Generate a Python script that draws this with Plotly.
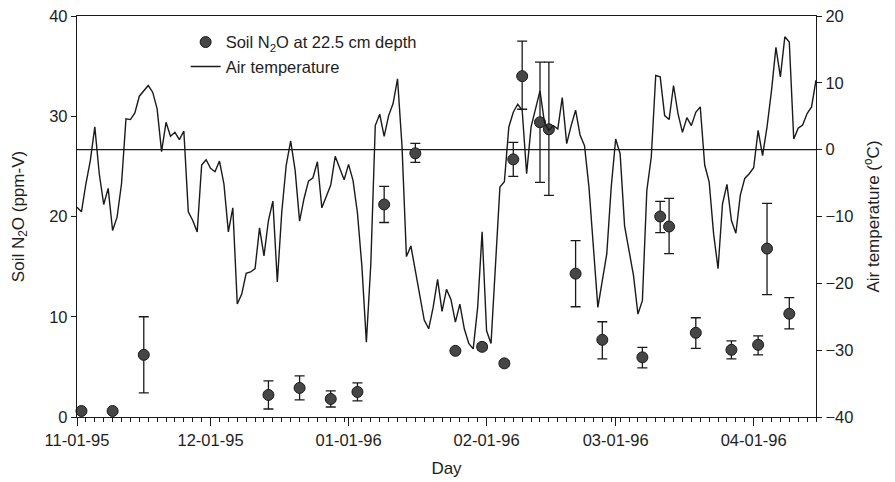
import pandas as pd
import plotly.graph_objects as go

# Daily air temperature (deg C), starting 1995-11-01
temp_start = "1995-11-01"
air_temp = [
    -8.6, -9.3, -5.1, -1.6, 3.4, -3.6, -8.2, -5.8, -12.1, -10.1,
    -5.1, 4.6, 4.5, 5.5, 8.0, 8.8, 9.6, 8.6, 6.1, -0.3,
    4.1, 2.0, 2.6, 1.5, 2.8, -9.3, -10.6, -12.3, -2.3, -1.5,
    -2.8, -3.3, -1.7, -5.1, -12.3, -8.7, -23.1, -21.6, -18.5, -18.3,
    -17.8, -11.7, -15.9, -10.6, -7.7, -19.8, -9.3, -2.3, 1.3, -3.1,
    -10.7, -7.3, -4.7, -4.2, -1.8, -8.7, -7.1, -5.3, -1.0, -2.7,
    -4.5, -2.2, -4.6, -9.5, -17.5, -28.8, -17.1, 3.6, 5.3, 2.0,
    5.1, 6.9, 10.6, 0.6, -16.0, -14.4, -18.3, -22.0, -25.5, -26.8,
    -23.6, -19.4, -24.2, -20.9, -22.4, -25.8, -23.1, -26.8, -29.0, -29.8,
    -23.6, -12.3, -27.1, -29.0, -18.1, -5.6, -4.8, 3.4, 5.6, 6.8,
    5.9, -3.6, 3.4, 6.1, 8.8, 4.1, 2.9, 3.6, 3.1, 7.8,
    0.9, 3.6, 5.9, 2.2, 0.6, -5.6, -14.6, -23.6, -19.6, -15.6,
    -5.6, 1.6, -0.6, -11.4, -15.1, -18.8, -24.6, -22.6, -6.1, -1.1,
    11.1, 10.9, 5.1, 4.5, 9.6, 5.4, 2.6, 4.8, 3.6, 5.6,
    6.4, -2.3, -4.8, -12.6, -17.8, -8.1, -5.2, -10.6, -12.5, -6.8,
    -4.3, -3.6, -2.7, 2.9, -0.9, 3.4, 8.8, 15.3, 10.9, 16.9,
    16.1, 1.6, 3.2, 3.7, 5.4, 6.4, 10.4,
]

# Soil N2O at 22.5 cm depth (ppm-V)
n2o_dates = [
    "1995-11-02", "1995-11-09", "1995-11-16", "1995-12-14", "1995-12-21",
    "1995-12-28", "1996-01-03", "1996-01-09", "1996-01-16", "1996-01-25",
    "1996-01-31", "1996-02-05", "1996-02-07", "1996-02-09", "1996-02-13",
    "1996-02-15", "1996-02-21", "1996-02-27", "1996-03-07", "1996-03-11",
    "1996-03-13", "1996-03-19", "1996-03-27", "1996-04-02", "1996-04-04",
    "1996-04-09",
]
n2o = [
    0.6, 0.6, 6.2, 2.2, 2.9, 1.8, 2.5, 21.2, 26.3, 6.6,
    7.0, 5.35, 25.7, 34.0, 29.4, 28.7, 14.3, 7.7, 5.95, 20.0,
    19.0, 8.4, 6.7, 7.2, 16.8, 10.3,
]
n2o_upper = [
    0.6, 0.6, 10.0, 3.6, 4.1, 2.6, 3.4, 23.0, 27.3, 6.6,
    7.3, 5.6, 27.4, 37.5, 35.4, 35.4, 17.6, 9.5, 6.95, 21.5,
    21.8, 9.9, 7.6, 8.1, 21.3, 11.9,
]
n2o_lower = [
    0.6, 0.6, 2.4, 0.8, 1.7, 1.0, 1.6, 19.4, 25.4, 6.6,
    6.7, 5.1, 24.0, 30.7, 23.4, 22.1, 11.0, 5.8, 4.9, 18.4,
    16.3, 6.85, 5.8, 6.2, 12.2, 8.8,
]

temp_dates = pd.date_range(temp_start, periods=len(air_temp), freq="D")
err_plus = [u - v for u, v in zip(n2o_upper, n2o)]
err_minus = [v - l for v, l in zip(n2o, n2o_lower)]

FONT = "Liberation Sans, Arial, sans-serif"
INK = "#1e1e1e"

fig = go.Figure()

fig.add_trace(go.Scatter(
    x=n2o_dates, y=n2o, mode="markers",
    name="Soil N<sub>2</sub>O at 22.5 cm depth",
    marker=dict(size=11, color="#464646", line=dict(color="#1a1a1a", width=1)),
    error_y=dict(type="data", symmetric=False, array=err_plus, arrayminus=err_minus,
                 color="#1a1a1a", thickness=1.3, width=5),
    cliponaxis=False,
))

fig.add_trace(go.Scatter(
    x=temp_dates, y=air_temp, mode="lines", name="Air temperature",
    line=dict(color="#1a1a1a", width=1.4), yaxis="y2",
))

fig.add_shape(type="line", xref="paper", x0=0, x1=1, yref="y2", y0=0, y1=0,
              line=dict(color="#1a1a1a", width=1.2), layer="below")

fig.update_layout(
    width=895, height=482,
    margin=dict(l=77, r=79, t=16, b=65, autoexpand=False),
    paper_bgcolor="white", plot_bgcolor="white",
    font=dict(family=FONT, size=16, color=INK),
    showlegend=True,
    legend=dict(x=0.147, y=0.978, xanchor="left", yanchor="top",
                bgcolor="rgba(0,0,0,0)", borderwidth=0,
                font=dict(size=16.5, color=INK), tracegroupgap=2),
    xaxis=dict(
        type="date", range=["1995-11-01", "1996-04-15"], automargin=False,
        dtick="M1", tick0="1995-11-01", tickformat="%m-%d-%y",
        showgrid=False, zeroline=False,
        showline=True, linecolor="#1a1a1a", linewidth=1.3, mirror=True,
        ticks="outside", ticklen=8, tickcolor="#1a1a1a", tickwidth=1.3,
        minor=dict(dtick=2 * 86400000, tick0="1995-11-01", ticks="outside",
                   ticklen=4, tickcolor="#1a1a1a", tickwidth=1, showgrid=False),
        title=dict(text="Day", font=dict(size=17, color=INK), standoff=14),
        tickfont=dict(size=16.5, color=INK),
    ),
    yaxis=dict(
        range=[0, 40], dtick=10, showgrid=False, zeroline=False, automargin=False,
        showline=True, linecolor="#1a1a1a", linewidth=1.3,
        ticks="outside", ticklen=5, tickcolor="#1a1a1a",
        title=dict(text="Soil N<sub>2</sub>O (ppm-V)", font=dict(size=17, color=INK), standoff=20),
        tickfont=dict(size=16.5, color=INK),
    ),
    yaxis2=dict(
        range=[-40, 20], dtick=10, overlaying="y", side="right", automargin=False,
        showgrid=False, zeroline=False,
        showline=True, linecolor="#1a1a1a", linewidth=1.3,
        ticks="outside", ticklen=5, tickcolor="#1a1a1a",
        title=dict(text="Air temperature (<sup>o</sup>C)", font=dict(size=17, color=INK), standoff=14),
        tickfont=dict(size=16.5, color=INK),
    ),
)

fig.write_html(
    "out.html",
    config={"displayModeBar": False},
    post_script="document.body.style.margin='0';document.body.style.padding='0';document.body.style.overflow='hidden';",
)
